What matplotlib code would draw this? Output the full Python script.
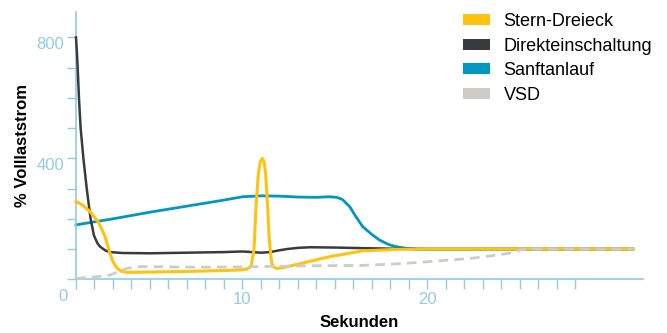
import matplotlib
matplotlib.use("Agg")
import matplotlib.pyplot as plt
from matplotlib.patches import Patch

# Anlaufstrom verschiedener Startverfahren (Zeit in s, Strom in % Volllast)
t_direkt = [1.0, 1.05, 1.09, 1.16, 1.25, 1.4, 1.58, 1.79, 1.97, 2.15, 2.3, 2.6, 2.84, 3.5,
            5, 7, 9, 10, 10.5, 11, 11.5, 12, 12.4, 13, 13.65, 15, 16.5, 18.3, 20, 31.1]
i_direkt = [800, 750, 700, 600, 500, 400, 300, 200, 145, 120, 108, 95, 90, 87,
            86, 88, 90, 92, 90, 88, 90, 96, 100, 104, 106, 105, 103, 101, 100, 100]

t_stern = [1.0, 1.3, 1.76, 2.0, 2.2, 2.4, 2.57, 2.72, 2.84, 3.0, 3.2, 3.45, 3.74, 5, 7, 9,
           9.86, 10.2, 10.46, 10.62, 10.73, 10.86, 10.96, 11.07, 11.17, 11.25, 11.36,
           11.45, 11.58, 11.7, 11.85, 12.3, 14.73, 16.5, 18.3, 20, 31.1]
i_stern = [257, 248, 224, 205, 190, 165, 141, 110, 86, 58, 38, 27, 23, 24, 26, 29,
           31, 33, 42, 97, 240, 350, 388, 400, 388, 350, 240,
           130, 53, 40, 36, 40, 75, 94, 99, 100, 100]

t_sanft = [1.0, 3, 5, 7, 9, 10, 11, 12, 13, 14, 14.7, 15.1, 15.4, 15.8, 16.1, 16.5, 17,
           17.4, 17.9, 18.3, 18.9, 19.5, 31.1]
i_sanft = [180, 200, 222, 242, 262, 273, 276, 275, 272, 271, 273, 271, 264, 240, 210, 174, 148,
           130, 115, 108, 102, 100, 100]

t_vsd = [1.0, 1.9, 2.84, 3.3, 3.74, 4.46, 6, 8, 10, 12, 14, 16.5, 18.3, 19.8, 21, 22.3,
         23.5, 24.6, 25.0, 25.4, 31.1]
i_vsd = [3, 7, 14, 25, 36, 42, 41, 40, 41, 43, 45, 46, 51, 57, 63, 69,
         78, 88, 97, 100, 100]

namen = ["Stern-Dreieck", "Direkteinschaltung", "Sanftanlauf", "VSD"]
farben = ["#FFC20F", "#383B3C", "#0097C3", "#CDCDC5"]

achse = "#92CBE5"
plt.rcParams["font.family"] = ["Liberation Sans", "DejaVu Sans"]

fig = plt.figure(figsize=(6.67, 3.33), dpi=100)
ax = fig.add_axes([76 / 667, 1 - 279.3 / 333, 567 / 667, 267.3 / 333])

ax.plot(t_sanft, i_sanft, color=farben[2], lw=2.0, clip_on=False, zorder=2)
ax.plot(t_direkt, i_direkt, color=farben[1], lw=1.8, clip_on=False, zorder=3)
ax.plot(t_stern, i_stern, color=farben[0], lw=2.2, clip_on=False, zorder=4)
ax.plot(t_vsd, i_vsd, color=farben[3], lw=2.0, dashes=(3.5, 2.2), clip_on=False, zorder=5)

ax.set_xlim(1, 31.65)
ax.set_ylim(0, 884)

for s in ["top", "right"]:
    ax.spines[s].set_visible(False)
for s in ["left", "bottom"]:
    ax.spines[s].set_color(achse)
    ax.spines[s].set_linewidth(1.2)

xt = list(range(1, 29))
ax.set_xticks(xt)
ax.set_xticklabels([str(t) if t in (10, 20) else "" for t in xt])
ax.set_yticks([400, 800])
ax.set_yticks(range(0, 801, 100), minor=True)
ax.tick_params(axis="x", length=7, width=1, color=achse, labelcolor=achse,
               labelsize=12, pad=2)
ax.tick_params(axis="y", which="both", length=6.5, width=1, color=achse,
               labelcolor=achse, labelsize=12, pad=2)
for lbl in ax.get_yticklabels():
    lbl.set_va("top")
ax.text(0.32, -33, "0", color=achse, fontsize=12, ha="center", va="top", clip_on=False)

ax.set_xlabel("Sekunden", fontsize=12, fontweight="bold", va="center")
ax.xaxis.set_label_coords(0.5, -0.16)
ax.set_ylabel("% Volllaststrom", fontsize=12, fontweight="bold", va="center")
ax.yaxis.set_label_coords(-0.095, 0.5)

griffe = [Patch(facecolor=f, edgecolor="none") for f in farben]
fig.legend(griffe, namen, loc="upper left", bbox_to_anchor=(463 / 667, 1 - 13 / 333),
           frameon=False, fontsize=13, handlelength=1.5, handleheight=0.55,
           handletextpad=0.75, labelspacing=0.42, borderpad=0, borderaxespad=0)

fig.savefig("out.png", dpi=100)
